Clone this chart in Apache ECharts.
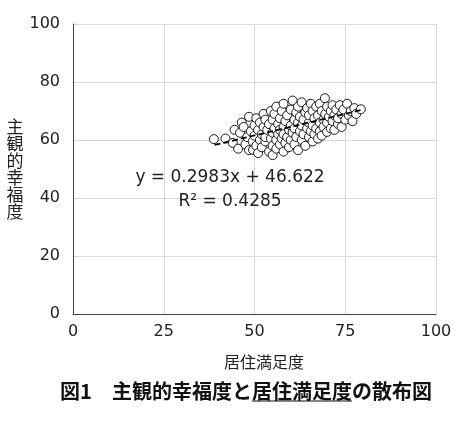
<!DOCTYPE html>
<html>
<head>
<meta charset="utf-8">
<script src="https://cdn.jsdelivr.net/npm/echarts@6/dist/echarts.min.js"></script>
<style>
  html, body { margin: 0; padding: 0; background: #fff; }
  #scatterChart { width: 469px; height: 424px; }
</style>
</head>
<body>
<div id="scatterChart"></div>
<script>
// 居住満足度 (x) と 主観的幸福度 (y)
const points = [
  [38.8, 60.3], [42, 60.5], [44, 59], [44.5, 63.5], [45.5, 57], [46, 62.5], [46.5, 66],
  [47, 64.5], [47.5, 58.5], [48, 61], [48.5, 56.5], [48.5, 68],
  [49, 63], [49.5, 59.5], [49.6, 56.6], [50, 65], [50, 61.5], [50.5, 58], [50.5, 67.5],
  [51, 63.5], [51, 55.5], [51.5, 60], [51.5, 66], [52, 62], [52, 57.5], [52.5, 64.5],
  [52.5, 69], [53, 59.5], [53, 61], [53, 67],
  [53.5, 63.5], [54, 56], [54, 65.5], [54.5, 60.5], [54.5, 70], [55, 54.8], [55, 58],
  [55, 62.5], [55, 67], [55.5, 64], [55.5, 69], [56, 60], [56, 57], [56, 71.5], [56.5, 62],
  [56.5, 65.5], [57, 58.5], [57, 67.5], [57, 63.5], [57.5, 60.5], [57.5, 70], [58, 56],
  [58, 64.5], [58, 62], [58, 72.5],
  [58.5, 59], [58.5, 66.5], [59, 68.5], [59, 61], [59.5, 63.5], [59.5, 57.5], [60, 65],
  [60, 70.5], [60, 60], [60.5, 73.6], [60.5, 62.5], [61, 67], [61, 58.5], [61, 64],
  [61.5, 69.5], [61.5, 61], [62, 66], [62, 71.5], [62, 56.5], [62.5, 63], [62.5, 68],
  [63, 60], [63, 65], [63, 73],
  [63.5, 62], [63.5, 67], [64, 69.5], [64, 58], [64.5, 64], [64.5, 71], [65, 61], [65, 66],
  [65, 68.5], [65.5, 63], [65.5, 72.5], [66, 59.5], [66, 65], [66, 70], [66.5, 67.5],
  [66.5, 62], [67, 64], [67, 71.5], [67.5, 60.5], [67.5, 68.5], [68, 66], [68, 63], [68, 72.5],
  [68.5, 70], [68.5, 61.5], [69, 67], [69, 64.5], [69.4, 74.4], [69.5, 69], [70, 62.8],
  [70, 66], [70, 71.5], [70.5, 68], [71, 64], [71, 70], [71.5, 72], [71.5, 66.5], [72, 68.5],
  [72, 63.5], [72.5, 70.5], [73, 65.5], [73, 67.5],
  [73.5, 72], [74, 69], [74, 64.5], [74.5, 70.5], [75, 67], [75.5, 72.5], [76, 68.5],
  [76.5, 70], [77, 66.5], [77.5, 71], [78, 69], [79.3, 70.6]
];
// 近似直線 y = 0.2983x + 46.622 の両端
const trendLine = [[39, 58.3], [80, 70.5]];
const xTicks = [0, 25, 50, 75, 100];
const yTicks = [0, 20, 40, 60, 80, 100];
const equationText = "y = 0.2983x + 46.622\nR² = 0.4285";
const titleParts = ["図1　主観的幸福度と", "居住満足度", "の散布図"];

let chart = echarts.init(document.getElementById("scatterChart"));

// 下線の位置をテキスト幅から決める
const titleFont = 'bold 20px "Noto Sans CJK JP"';
const ctx = document.createElement("canvas").getContext("2d");
ctx.font = titleFont;
const w0 = ctx.measureText(titleParts[0]).width;
const w1 = ctx.measureText(titleParts[1]).width;
const wAll = ctx.measureText(titleParts.join("")).width;
const titleCx = 246, titleY = 391;
const titleLeft = titleCx - wAll / 2;

let option = {
  animation: false,
  textStyle: { fontFamily: '"DejaVu Sans", sans-serif' },
  grid: { left: 73, right: 33, top: 24, bottom: 110 },
  xAxis: {
    type: "value",
    min: xTicks[0],
    max: xTicks[xTicks.length - 1],
    interval: 25,
    name: "居住満足度",
    nameLocation: "middle",
    nameGap: 40,
    nameTextStyle: {
      fontFamily: '"Noto Sans CJK JP"',
      fontSize: 16,
      color: "#222",
      padding: [0, 0, 0, 19],
    },
    axisLine: { lineStyle: { color: "#404040", width: 1 } },
    axisTick: { show: false },
    axisLabel: { fontSize: 16, color: "#222", margin: 10 },
    splitLine: { show: true, lineStyle: { color: "#d9d9d9" } },
  },
  yAxis: {
    type: "value",
    min: yTicks[0],
    max: yTicks[yTicks.length - 1],
    interval: 20,
    name: "主\n観\n的\n幸\n福\n度",
    nameLocation: "middle",
    nameRotate: 0,
    nameGap: 49,
    nameTextStyle: {
      fontFamily: '"Noto Sans CJK JP"',
      fontSize: 17,
      lineHeight: 17,
      color: "#222",
    },
    axisLine: { show: true, lineStyle: { color: "#404040", width: 1 } },
    axisTick: { show: false },
    axisLabel: { fontSize: 16, color: "#222", margin: 13 },
    splitLine: { show: true, lineStyle: { color: "#d9d9d9" } },
  },
  graphic: [
    {
      type: "text",
      x: 230,
      y: 190,
      z: 10,
      style: {
        text: equationText,
        fontFamily: '"DejaVu Sans", sans-serif',
        fontSize: 17,
        lineHeight: 24,
        fill: "#222",
        align: "center",
        verticalAlign: "middle",
      },
    },
    {
      type: "text",
      x: titleCx,
      y: titleY,
      style: {
        text: titleParts.join(""),
        font: titleFont,
        fill: "#111",
        align: "center",
        verticalAlign: "middle",
      },
    },
    {
      type: "line",
      shape: { x1: titleLeft + w0, y1: titleY + 10, x2: titleLeft + w0 + w1, y2: titleY + 10 },
      style: { stroke: "#111", lineWidth: 1.2 },
    },
  ],
  series: [
    {
      type: "scatter",
      data: points,
      symbol: "circle",
      symbolSize: 9,
      itemStyle: { color: "#fff", borderColor: "#1a1a1a", borderWidth: 1, opacity: 1 },
      z: 2,
    },
    {
      type: "line",
      data: trendLine,
      symbol: "none",
      lineStyle: { color: "#000", width: 1.8, type: [6, 3] },
      z: 3,
      silent: true,
    },
  ],
};
chart.setOption(option);
</script>
</body>
</html>
